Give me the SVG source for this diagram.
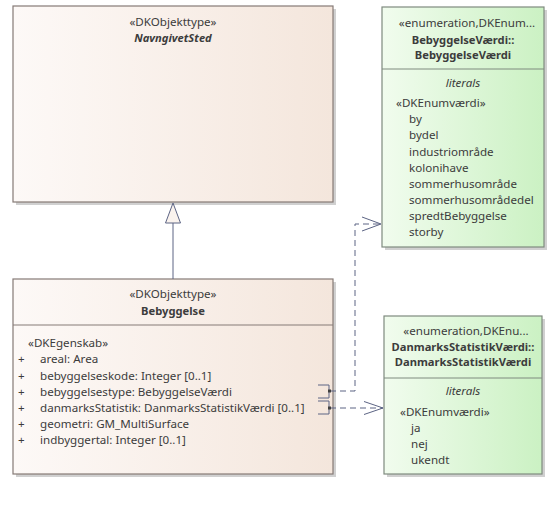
<svg xmlns="http://www.w3.org/2000/svg" width="558" height="511" viewBox="0 0 558 511">
<defs>
<linearGradient id="gc" x1="0" y1="0" x2="1" y2="0"><stop offset="0" stop-color="#FDF9F7"/><stop offset="1" stop-color="#F4E6DC"/></linearGradient>
<linearGradient id="ge" x1="0" y1="0" x2="1" y2="0"><stop offset="0" stop-color="#F1FCEE"/><stop offset="1" stop-color="#CBF1C3"/></linearGradient>
<style>
text{font-family:"Noto Sans","Open Sans","DejaVu Sans",sans-serif;font-size:11.6px;fill:#3c3c3c}
.c{text-anchor:middle}
.b{font-weight:bold;font-size:11.2px}
.i{font-style:italic}
.shadow{fill:#d0d0d0}
.cls{fill:url(#gc);stroke:#857a76;stroke-width:1.2}
.enm{fill:url(#ge);stroke:#7f8a7f;stroke-width:1.2}
.sep{stroke:#857a76;stroke-width:1}
.sepe{stroke:#7f8a7f;stroke-width:1}
.con{fill:none;stroke:#5c6484;stroke-width:1}
.dash{stroke-dasharray:6,4}
</style>
</defs>
<g id="NavngivetSted">
<rect class="shadow" x="16" y="9" width="320" height="196"/>
<rect class="cls" x="13" y="6" width="320" height="196"/>
<text class="c" x="173" y="26">«DKObjekttype»</text>
<text class="c b i" x="173" y="42">NavngivetSted</text>
</g>
<g id="Bebyggelse">
<rect class="shadow" x="16" y="282" width="320" height="195"/>
<rect class="cls" x="13" y="279" width="320" height="195"/>
<line class="sep" x1="13" y1="325" x2="333" y2="325"/>
<text class="c" x="173" y="298">«DKObjekttype»</text>
<text class="c b" x="173" y="315">Bebyggelse</text>
<text x="28" y="347">«DKEgenskab»</text>
<text x="18" y="363">+</text><text x="40" y="363">areal: Area</text>
<text x="18" y="380">+</text><text x="40" y="380">bebyggelseskode: Integer [0..1]</text>
<text x="18" y="396">+</text><text x="40" y="396">bebyggelsestype: BebyggelseVærdi</text>
<text x="18" y="412">+</text><text x="40" y="412">danmarksStatistik: DanmarksStatistikVærdi [0..1]</text>
<text x="18" y="428">+</text><text x="40" y="428">geometri: GM_MultiSurface</text>
<text x="18" y="444">+</text><text x="40" y="444">indbyggertal: Integer [0..1]</text>
</g>
<g id="BebyggelseVaerdi">
<rect class="shadow" x="385" y="10" width="162" height="240"/>
<rect class="enm" x="382" y="7" width="162" height="240"/>
<line class="sepe" x1="382" y1="69" x2="544" y2="69"/>
<text class="c" x="467" y="27">«enumeration,DKEnum...</text>
<text class="c b" x="463" y="44">BebyggelseVærdi::</text>
<text class="c b" x="463" y="59">BebyggelseVærdi</text>
<text class="c i" x="463" y="87">literals</text>
<text x="396" y="107">«DKEnumværdi»</text>
<text x="409" y="123">by</text>
<text x="409" y="139">bydel</text>
<text x="409" y="156">industriområde</text>
<text x="409" y="172">kolonihave</text>
<text x="409" y="188">sommerhusområde</text>
<text x="409" y="204">sommerhusområdedel</text>
<text x="409" y="220">spredtBebyggelse</text>
<text x="409" y="236">storby</text>
</g>
<g id="DanmarksStatistikVaerdi">
<rect class="shadow" x="387" y="319" width="158" height="158"/>
<rect class="enm" x="384" y="316" width="158" height="158"/>
<line class="sepe" x1="384" y1="378" x2="542" y2="378"/>
<text class="c" x="466" y="335">«enumeration,DKEnu...</text>
<text class="c b" x="463" y="351">DanmarksStatistikVærdi::</text>
<text class="c b" x="463" y="366">DanmarksStatistikVærdi</text>
<text class="c i" x="463" y="395">literals</text>
<text x="400" y="416">«DKEnumværdi»</text>
<text x="411" y="432">ja</text>
<text x="411" y="448">nej</text>
<text x="411" y="464">ukendt</text>
</g>
<g id="connectors">
<line class="con" x1="173" y1="223" x2="173" y2="279"/>
<polygon points="173,203 165.5,223 180.5,223" fill="#FAF3EE" stroke="#5c6484" stroke-width="1"/>
<path class="con dash" d="M330,391 H355 V224 H380"/>
<path class="con" d="M362,217 L381,224 L362,231"/>
<path class="con dash" d="M330,408 H383"/>
<path class="con" d="M364,401.5 L383,408 L364,414.5"/>
<path class="con" d="M318,385 H329 V398 H318 M318,401 H329 V414 H318" stroke="#404040"/>
<rect x="328" y="389.5" width="3" height="3" fill="#404040"/>
<rect x="328" y="406.5" width="3" height="3" fill="#404040"/>
</g>
</svg>
